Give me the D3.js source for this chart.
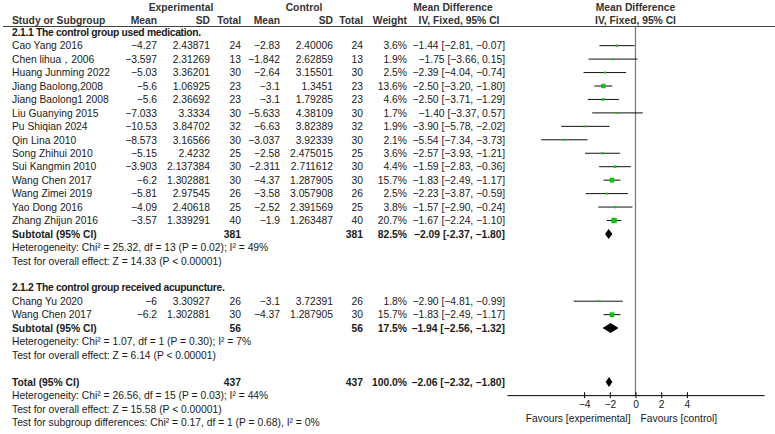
<!DOCTYPE html>
<html>
<head>
<meta charset="utf-8">
<title>Forest plot</title>
<style>
body { margin: 0; background: #fff; }
text { font-family: "Liberation Sans", Arial, sans-serif; font-size: 10.3px; fill: #1a1a1a; }
.b { font-weight: bold; }
.g { font-weight: bold; letter-spacing: -0.3px; }
.hd { font-weight: bold; fill: #333; }
.axis text { font-family: "Liberation Sans", Arial, sans-serif; font-size: 10.3px; fill: #1a1a1a; }
</style>
</head>
<body>
<svg width="775" height="434"></svg>
<script src="https://d3js.org/d3.v7.min.js"></script>
<script>
var svg = d3.select("svg");

// ---- data ----
var groupNames = ["2.1.1 The control group used medication.", "2.1.2 The control group received acupuncture."];
var studies = ["Cao Yang 2016", "Chen lihua，2006", "Huang Junming 2022", "Jiang Baolong,2008", "Jiang Baolong1 2008",
  "Liu Guanying 2015", "Pu Shiqian 2024", "Qin Lina 2010", "Song Zhihui 2010", "Sui Kangmin 2010",
  "Wang Chen 2017", "Wang Zimei 2019", "Yao Dong 2016", "Zhang Zhijun 2016",
  "Chang Yu 2020", "Wang Chen 2017"];
var group   = [0,0,0,0,0,0,0,0,0,0,0,0,0,0,1,1];
var expMean = [-4.27, -3.597, -5.03, -5.6, -5.6, -7.033, -10.53, -8.573, -5.15, -3.903, -6.2, -5.81, -4.09, -3.57, -6, -6.2];
var expSD   = ["2.43871", "2.31269", "3.36201", "1.06925", "2.36692", "3.3334", "3.84702", "3.16566", "2.4232", "2.137384", "1.302881", "2.97545", "2.40618", "1.339291", "3.30927", "1.302881"];
var expN    = [24, 13, 30, 23, 23, 30, 32, 30, 25, 30, 30, 26, 25, 40, 26, 30];
var ctlMean = [-2.83, -1.842, -2.64, -3.1, -3.1, -5.633, -6.63, -3.037, -2.58, -2.311, -4.37, -3.58, -2.52, -1.9, -3.1, -4.37];
var ctlSD   = ["2.40006", "2.62859", "3.15501", "1.3451", "1.79285", "4.38109", "3.82389", "3.92339", "2.475015", "2.711612", "1.287905", "3.057908", "2.391569", "1.263487", "3.72391", "1.287905"];
var ctlN    = [24, 13, 30, 23, 23, 30, 32, 30, 25, 30, 30, 26, 25, 40, 26, 30];
var weight  = [3.6, 1.9, 2.5, 13.6, 4.6, 1.7, 1.9, 2.1, 3.6, 4.4, 15.7, 2.5, 3.8, 20.7, 1.8, 15.7];
var md      = [-1.44, -1.75, -2.39, -2.50, -2.50, -1.40, -3.90, -5.54, -2.57, -1.59, -1.83, -2.23, -1.57, -1.67, -2.90, -1.83];
var ciLow   = [-2.81, -3.66, -4.04, -3.20, -3.71, -3.37, -5.78, -7.34, -3.93, -2.83, -2.49, -3.87, -2.90, -2.24, -4.81, -2.49];
var ciHigh  = [-0.07, 0.15, -0.74, -1.80, -1.29, 0.57, -2.02, -3.73, -1.21, -0.36, -1.17, -0.59, -0.24, -1.10, -0.99, -1.17];

var subN      = [381, 56];
var subWeight = [82.5, 17.5];
var subMd     = [-2.09, -1.94];
var subLow    = [-2.37, -2.56];
var subHigh   = [-1.80, -1.32];
var subHet    = ["Heterogeneity: Chi² = 25.32, df = 13 (P = 0.02); I² = 49%", "Heterogeneity: Chi² = 1.07, df = 1 (P = 0.30); I² = 7%"];
var subTest   = ["Test for overall effect: Z = 14.33 (P < 0.00001)", "Test for overall effect: Z = 6.14 (P < 0.00001)"];

var totN = 437, totWeight = 100.0, totMd = -2.06, totLow = -2.32, totHigh = -1.80;
var totHet  = "Heterogeneity: Chi² = 26.56, df = 15 (P = 0.03); I² = 44%";
var totTest = "Test for overall effect: Z = 15.58 (P < 0.00001)";
var subDiff = "Test for subgroup differences: Chi² = 0.17, df = 1 (P = 0.68), I² = 0%";

var tickValues = [-4, -2, 0, 2, 4];
var favours = ["Favours [experimental]", "Favours [control]"];

// ---- layout ----
var col = { name: 12, eMean: 157, eSD: 210, eN: 241, cMean: 280, cSD: 333, cN: 363, w: 407, ci: 505, mdHead: 453, ciHead: 459 };

var x = d3.scaleLinear().domain([-10, 10]).range([507, 764]);
var y = d3.scaleLinear().domain([0, 1]).range([32.2, 45.65]);

var f2 = d3.format(".2f"), f1 = d3.format(".1f");
function num(v) { return String(v).replace("-", "\u2212"); }
function ci(m, l, h) { return f2(m) + " [" + f2(l) + ", " + f2(h) + "]"; }

function txt(xp, row, s, anchor, cls) {
  svg.append("text")
    .attr("x", xp).attr("y", y(row) + 3.7)
    .attr("text-anchor", anchor || "start")
    .attr("class", cls || null)
    .text(s);
}

// headers
[["Experimental", 181], ["Control", 304], ["Mean Difference", col.mdHead], ["Mean Difference", x(0)]].forEach(function (h) {
  svg.append("text").attr("class", "hd").attr("x", h[1]).attr("y", 11).attr("text-anchor", "middle").text(h[0]);
});
[["Study or Subgroup", col.name, "start"], ["Mean", col.eMean, "end"], ["SD", col.eSD, "end"], ["Total", col.eN, "end"],
 ["Mean", col.cMean, "end"], ["SD", col.cSD, "end"], ["Total", col.cN, "end"], ["Weight", col.w, "end"],
 ["IV, Fixed, 95% CI", col.ciHead, "middle"], ["IV, Fixed, 95% CI", x(0), "middle"]].forEach(function (h) {
  svg.append("text").attr("class", "hd").attr("x", h[1]).attr("y", 23.8).attr("text-anchor", h[2]).text(h[0]);
});
svg.append("line").attr("x1", 3).attr("x2", 775).attr("y1", 26.5).attr("y2", 26.5)
  .attr("stroke", "#444").attr("stroke-width", 1);

// rows
var plot = svg.append("g");
var row = 0;
var axisRow;

function diamond(r, m, l, h) {
  var yc = y(r);
  plot.append("path")
    .attr("d", "M" + x(l) + "," + yc + "L" + x(m) + "," + (yc - 5) + "L" + x(h) + "," + yc + "L" + x(m) + "," + (yc + 5) + "Z")
    .attr("fill", "#000");
}

groupNames.forEach(function (g, gi) {
  txt(col.name, row, g, "start", "g");
  row++;
  studies.forEach(function (s, i) {
    if (group[i] !== gi) return;
    txt(col.name, row, s);
    txt(col.eMean, row, num(expMean[i]), "end");
    txt(col.eSD, row, expSD[i], "end");
    txt(col.eN, row, expN[i], "end");
    txt(col.cMean, row, num(ctlMean[i]), "end");
    txt(col.cSD, row, ctlSD[i], "end");
    txt(col.cN, row, ctlN[i], "end");
    txt(col.w, row, f1(weight[i]) + "%", "end");
    txt(col.ci, row, ci(md[i], ciLow[i], ciHigh[i]), "end");
    plot.append("line")
      .attr("x1", x(ciLow[i])).attr("x2", x(ciHigh[i]))
      .attr("y1", y(row)).attr("y2", y(row))
      .attr("stroke", "#111").attr("stroke-width", 1);
    var s2 = Math.max(2, 1.2 * Math.sqrt(weight[i]));
    plot.append("rect")
      .attr("x", x(md[i]) - s2 / 2).attr("y", y(row) - s2 / 2)
      .attr("width", s2).attr("height", s2)
      .attr("fill", "#11c011");
    row++;
  });
  txt(col.name, row, "Subtotal (95% CI)", "start", "b");
  txt(col.eN, row, subN[gi], "end", "b");
  txt(col.cN, row, subN[gi], "end", "b");
  txt(col.w, row, f1(subWeight[gi]) + "%", "end", "b");
  txt(col.ci, row, gi === 0 ? f2(subMd[gi]) + " [-" + f2(-subLow[gi]) + ", " + f2(subHigh[gi]) + "]" : ci(subMd[gi], subLow[gi], subHigh[gi]), "end", "b");
  diamond(row, subMd[gi], subLow[gi], subHigh[gi]);
  row++;
  txt(col.name, row, subHet[gi]); row++;
  txt(col.name, row, subTest[gi]); row++;
  row++;
});

txt(col.name, row, "Total (95% CI)", "start", "b");
txt(col.eN, row, totN, "end", "b");
txt(col.cN, row, totN, "end", "b");
txt(col.w, row, f1(totWeight) + "%", "end", "b");
txt(col.ci, row, ci(totMd, totLow, totHigh), "end", "b");
diamond(row, totMd, totLow, totHigh);
row++;
axisRow = row;
txt(col.name, row, totHet); row++;
txt(col.name, row, totTest); row++;
txt(col.name, row, subDiff); row++;

// zero line
var axisY = y(axisRow) - 0.2;
svg.insert("line", "g")
  .attr("x1", x(0)).attr("x2", x(0))
  .attr("y1", 26.5).attr("y2", axisY)
  .attr("stroke", "#777").attr("stroke-width", 1.2);

// axis
var xAxis = d3.axisBottom(x)
  .tickValues(tickValues)
  .tickSizeInner(3)
  .tickSizeOuter(0)
  .tickFormat(d3.format("d"));
var gX = svg.append("g")
  .attr("class", "axis")
  .attr("transform", "translate(0," + axisY + ")")
  .call(xAxis);
gX.select(".domain").attr("stroke", "#000");
gX.selectAll(".tick line").attr("y1", -3).attr("stroke", "#000");
gX.selectAll(".tick text").attr("fill", "#1a1a1a").attr("font-size", null).attr("font-family", null);

svg.append("text").attr("x", x(0) - 5).attr("y", 422).attr("text-anchor", "end").text(favours[0]);
svg.append("text").attr("x", x(0) + 5).attr("y", 422).attr("text-anchor", "start").text(favours[1]);
</script>
</body>
</html>
